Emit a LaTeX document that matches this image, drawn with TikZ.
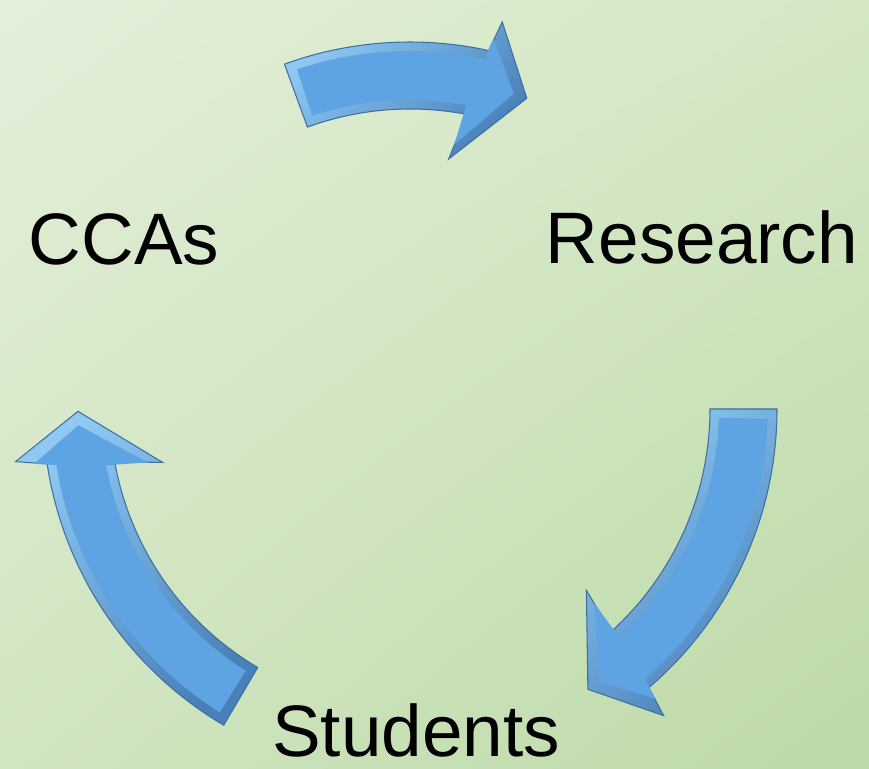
\documentclass[tikz,border=0pt]{standalone}
\usepackage{fontspec}
\setmainfont{Liberation Sans}
\usetikzlibrary{shadings}
\definecolor{bgtl}{HTML}{E4EFDA}
\definecolor{bgtr}{HTML}{D3E7C5}
\definecolor{bgbl}{HTML}{D0E5C1}
\definecolor{bgbr}{HTML}{BDD9A7}
\definecolor{rimlight}{HTML}{8EC8F3}
\definecolor{rimdark}{HTML}{4880B8}
\definecolor{lineblue}{HTML}{3F6F9F}
\definecolor{faceblue}{HTML}{5FA4E2}
\newcommand{\cyclearrow}[2]{(#1:367) arc[start angle=#1, end angle=#2+8.2, radius=367] -- (#2+7.2:398) -- (#2:332) -- (#2+11.8:253) -- (#2+9.7:300) arc[start angle=#2+9.7, end angle=#1, radius=300] -- cycle}
\newcommand{\cycleface}[2]{(#1-1.6:358) arc[start angle=#1-1.6, end angle=#2+8.6, radius=358] -- (#2+7.9:380) -- (#2+2.4:332) -- (#2+11.1:268) -- (#2+10.1:309) arc[start angle=#2+10.1, end angle=#1-1.6, radius=309] -- cycle}
\tikzset{
	arrowrim/.style={top color=rimlight,bottom color=rimdark,shading angle=45,draw=lineblue,line width=0.6pt,line join=miter},
	arrowtop/.style={fill=faceblue},
	lbl/.style={inner sep=0pt,anchor=base,font=\fontsize{41.5}{50}\selectfont}
}
\begin{document}
\begin{tikzpicture}[x=0.02cm,y=0.02cm]
		\useasboundingbox (0,0) rectangle (869,768);
		\shade[upper left=bgtl,upper right=bgtr,lower left=bgbl,lower right=bgbr] (0,0) rectangle (869,768);
		\coordinate (c) at (410,359);
		\begin{scope}[shift={(c)}]
			\foreach \tl/\tp in {110/69.4,0/-57.6,239.5/180.4}{
				\shadedraw[arrowrim] \cyclearrow{\tl}{\tp};
				\fill[arrowtop] \cycleface{\tl}{\tp};
			}
		\end{scope}
		\node[lbl] (ccas) at (124,503) {CCAs};
		\node[lbl] (research) at (702,504) {Research};
		\node[lbl] (students) at (416,12) {Students};
		\end{tikzpicture}
\end{document}
